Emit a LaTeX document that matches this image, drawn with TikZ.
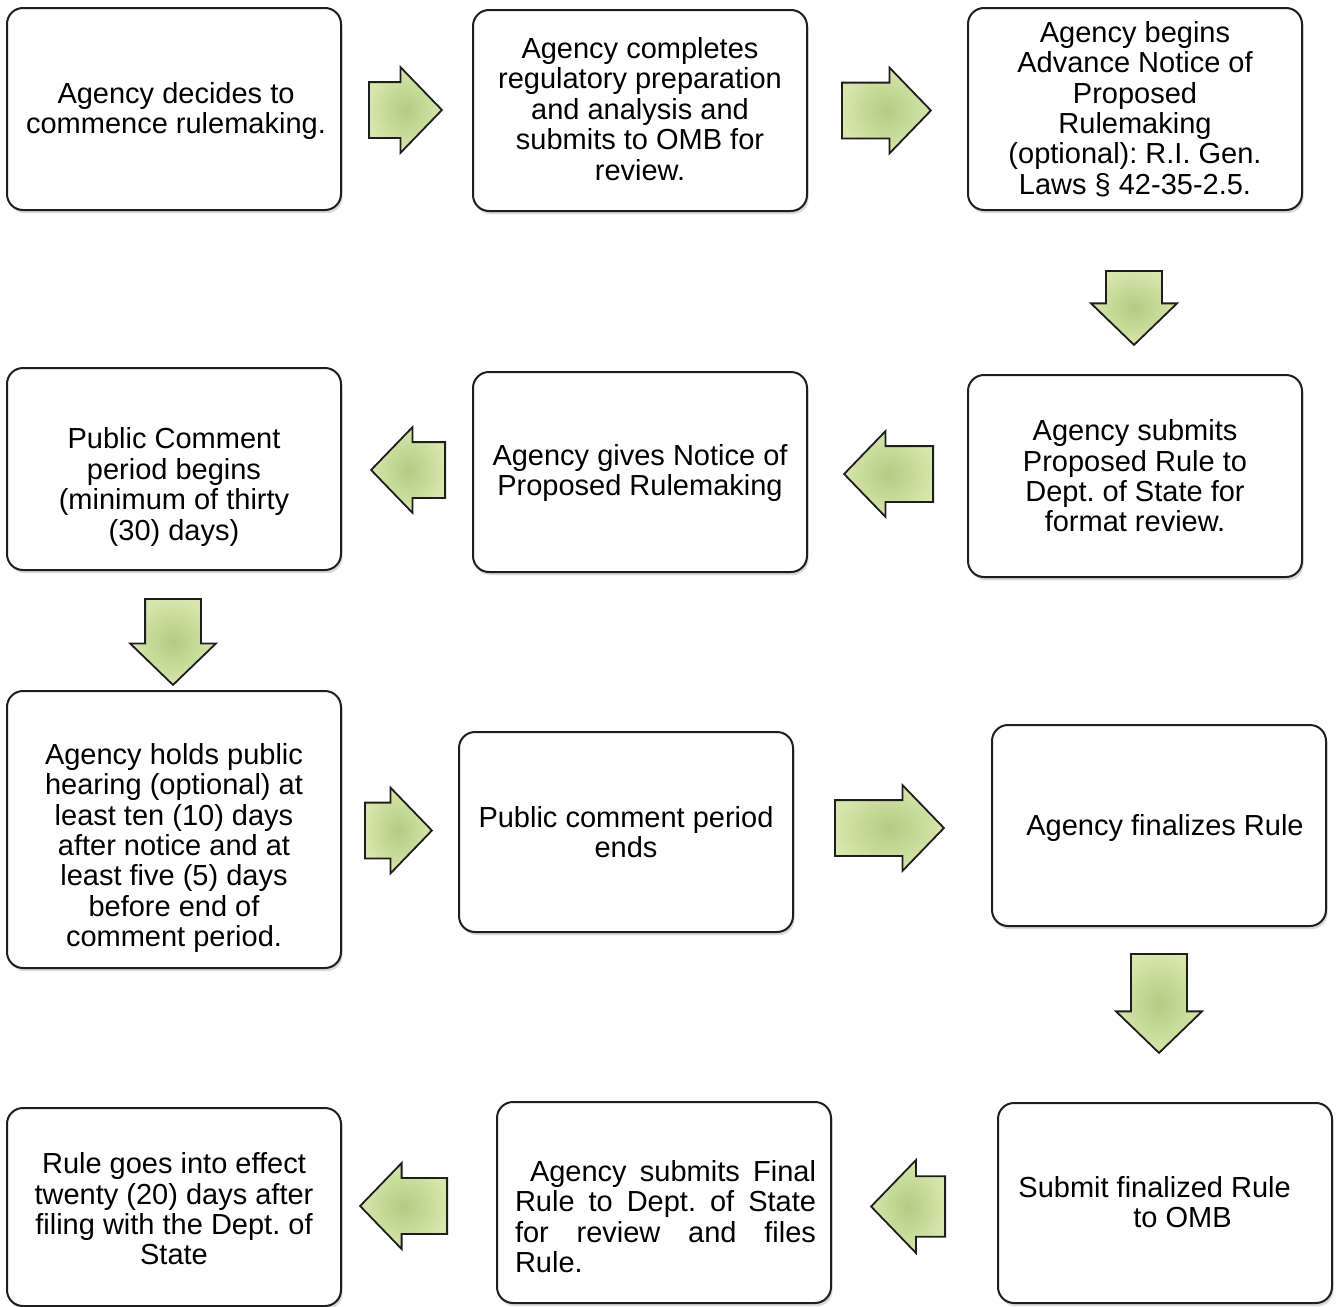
\documentclass[tikz,border=0pt]{standalone}
\usepackage{fontspec}
\setmainfont{Liberation Sans}
\usetikzlibrary{shapes.arrows,shadows}

\definecolor{setaverde}{RGB}{178,204,128}
\definecolor{setaclara}{RGB}{214,230,172}
\definecolor{contorno}{RGB}{30,30,30}

\begin{document}
\frenchspacing
\begin{tikzpicture}[
        x=0.5pt, y=-0.5pt,
        every node/.style={font=\fontsize{14.5}{15.2}\selectfont},
        caixa/.style={rectangle, draw=contorno, line width=1pt, rounded corners=8pt, fill=white,
            minimum width=167pt, minimum height=#1, inner sep=0pt,
            drop shadow={shadow xshift=0.8pt, shadow yshift=-1.6pt, opacity=0.3}}, % Caixa de cada etapa
        texto/.style={align=center, inner sep=0pt}, % Texto centrado
        seta/.style={single arrow, draw=contorno, line width=0.9pt, anchor=tail,
            single arrow head extend=7.5pt, single arrow tip angle=92,
            inner color=setaverde, outer color=setaclara}, % Seta de bloco verde
        direita/.style={seta, inner xsep=0pt, inner ysep=13.5pt, shape border rotate=0},
        esquerda/.style={seta, inner xsep=0pt, inner ysep=13.5pt, shape border rotate=180},
        baixo/.style={seta, inner xsep=13.5pt, inner ysep=0pt, shape border rotate=270}
    ]
    \useasboundingbox (0,0) rectangle (1338,1306);

    % linha 1
    \node[caixa=101pt] (b1) at (174,109) {};
    \node[texto] (t1) at (176,111) {Agency decides to\\commence rulemaking.};
    \node[caixa=100.5pt] (b2) at (640,110.5) {};
    \node[texto] (t2) at (640,109) {Agency completes\\regulatory preparation\\and analysis and\\submits to OMB for\\review.};
    \node[caixa=101pt] (b3) at (1135,109) {};
    \node[texto] (t3) at (1135,109) {Agency begins\\Advance Notice of\\Proposed\\Rulemaking\\(optional): R.I. Gen.\\Laws § 42-35-2.5.};

    % linha 2
    \node[caixa=101pt] (b4) at (174,469) {};
    \node[texto] (t4) at (174,487) {Public Comment\\period begins\\(minimum of thirty\\(30) days)};
    \node[caixa=100pt] (b5) at (640,472) {};
    \node[texto] (t5) at (640,473) {Agency gives Notice of\\Proposed Rulemaking};
    \node[caixa=101pt] (b6) at (1135,476) {};
    \node[texto] (t6) at (1135,476) {Agency submits\\Proposed Rule to\\Dept. of State for\\format review.};

    % linha 3
    \node[caixa=138.5pt] (b7) at (174,829.5) {};
    \node[texto] (t7) at (174,848) {Agency holds public\\hearing (optional) at\\least ten (10) days\\after notice and at\\least five (5) days\\before end of\\comment period.};
    \node[caixa=100pt] (b8) at (626,832) {};
    \node[texto] (t8) at (626,832) {Public comment period\\ends};
    \node[caixa=100.5pt] (b9) at (1159,825.5) {};
    \node[texto] (t9) at (1165,828) {Agency finalizes Rule};

    % linha 4
    \node[caixa=99pt] (b10) at (174,1207) {};
    \node[texto] (t10) at (174,1209) {Rule goes into effect\\twenty (20) days after\\filing with the Dept. of\\State};
    \node[caixa=100.5pt] (b11) at (664,1202.5) {};
    \node[texto, align=justify, text width=150.5pt] (t11) at (665.5,1216.5)
        {\hspace*{7.5pt}Agency submits Final\linebreak Rule to Dept. of State\linebreak for review and files\linebreak Rule.};
    \node[caixa=100pt] (b12) at (1165,1203) {};
    \node[texto, align=left, anchor=west] (t12) at (1018,1202) {Submit finalized Rule\\\hspace*{57.5pt}to OMB};

    % setas entre as etapas (posicionadas pela cauda)
    \node[direita, minimum height=36.5pt, minimum width=42pt] (s1) at (368,110) {};
    \node[direita, minimum height=44.5pt, minimum width=42.5pt] (s2) at (841,110.5) {};
    \node[baixo, minimum height=37pt, minimum width=43pt] (s3) at (1134,270) {};
    \node[esquerda, minimum height=44.5pt, minimum width=42pt] (s4) at (934,474) {};
    \node[esquerda, minimum height=37pt, minimum width=42pt] (s5) at (446,470) {};
    \node[baixo, minimum height=43pt, minimum width=42pt] (s6) at (173,598) {};
    \node[direita, minimum height=33.5pt, minimum width=41.5pt] (s7) at (364,830.5) {};
    \node[direita, minimum height=54.5pt, minimum width=42pt] (s8) at (834,828) {};
    \node[baixo, minimum height=49.5pt, minimum width=43pt] (s9) at (1159,953) {};
    \node[esquerda, minimum height=37pt, minimum width=46.5pt] (s10) at (946,1206.5) {};
    \node[esquerda, minimum height=43.5pt, minimum width=43pt] (s11) at (448,1206) {};
\end{tikzpicture}
\end{document}
